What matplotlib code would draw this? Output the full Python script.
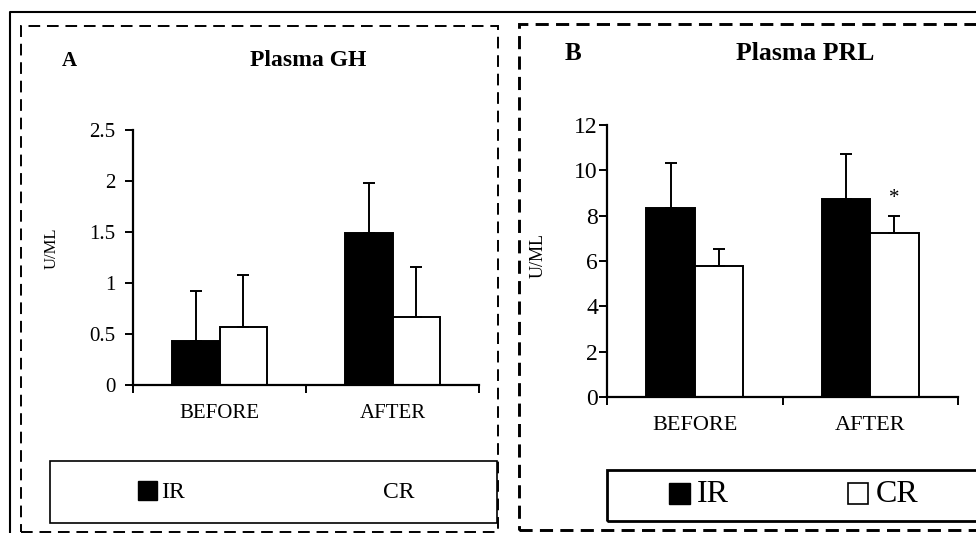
import matplotlib
matplotlib.use('Agg')
import matplotlib.pyplot as plt
from matplotlib.patches import Rectangle
from matplotlib.lines import Line2D
import numpy as np

plt.rcParams['font.family'] = 'Liberation Serif'

categories = ['BEFORE', 'AFTER']
groups = ['IR', 'CR']

gh_ir = [0.43, 1.49]
gh_ir_err = [0.49, 0.49]
gh_cr = [0.57, 0.67]
gh_cr_err = [0.51, 0.49]

prl_ir = [8.35, 8.74]
prl_ir_err = [1.98, 1.96]
prl_cr = [5.78, 7.23]
prl_cr_err = [0.75, 0.75]

W, H = 976, 533
fig = plt.figure(figsize=(W / 100, H / 100), dpi=100)


def fx(px):
    return px / W


def fy(py):
    return 1 - py / H


def draw_panel(ax, ir, ir_err, cr, cr_err, ymax, yticks, tick_fs, lab_fs, ypad):
    x = np.arange(len(categories))
    w = 0.275
    ax.bar(x - w / 2, ir, w, color='black', edgecolor='black', linewidth=1.4, zorder=2)
    ax.bar(x + w / 2, cr, w, color='white', edgecolor='black', linewidth=1.4, zorder=2)
    ax.errorbar(x - w / 2, ir, yerr=[np.zeros(len(ir)), ir_err], fmt='none',
                ecolor='black', elinewidth=1.4, capsize=4.5, capthick=1.4, zorder=3)
    ax.errorbar(x + w / 2, cr, yerr=[np.zeros(len(cr)), cr_err], fmt='none',
                ecolor='black', elinewidth=1.4, capsize=4.5, capthick=1.4, zorder=3)
    ax.set_xlim(-0.5, len(categories) - 0.5)
    ax.set_ylim(0, ymax)
    ax.set_yticks(yticks)
    ax.set_yticklabels([f'{t:g}' for t in yticks], fontsize=tick_fs)
    ax.set_xticks(x)
    ax.set_xticklabels(categories, fontsize=lab_fs)
    ax.set_xticks(np.arange(len(categories) + 1) - 0.5, minor=True)
    ax.tick_params(axis='x', which='major', length=0, pad=14)
    ax.tick_params(axis='x', which='minor', length=6, width=1.4, direction='out')
    ax.tick_params(axis='y', length=5.5, width=1.4, direction='out', pad=ypad)
    for s in ['top', 'right']:
        ax.spines[s].set_visible(False)
    for s in ['left', 'bottom']:
        ax.spines[s].set_linewidth(1.6)
    ax.set_facecolor('none')


# panel A
axA = fig.add_axes([fx(133), fy(385), fx(479 - 133), (385 - 130) / H])
draw_panel(axA, gh_ir, gh_ir_err, gh_cr, gh_cr_err, 2.5, [0, 0.5, 1, 1.5, 2, 2.5], 15, 15, 7)
axA.set_ylabel('U/ML', fontsize=12)
axA.yaxis.set_label_coords((60 - 133) / 346, (385 - 248) / 255)

# panel B
axB = fig.add_axes([fx(607), fy(397), fx(958 - 607), (397 - 125) / H])
draw_panel(axB, prl_ir, prl_ir_err, prl_cr, prl_cr_err, 12, [0, 2, 4, 6, 8, 10, 12], 17, 16, 1)
axB.set_ylabel('U/ML', fontsize=13)
axB.yaxis.set_label_coords((547 - 607) / 351, (397 - 256) / 272)
axB.text(1 + 0.275 / 2, 8.75, '*', ha='center', va='center', fontsize=15)

# titles
fig.text(fx(62), fy(61), 'A', fontsize=15, fontweight='bold', va='center', ha='left')
fig.text(fx(308), fy(61), 'Plasma GH', fontsize=17, fontweight='bold', va='center', ha='center')
fig.text(fx(565), fy(53), 'B', fontsize=18, fontweight='bold', va='center', ha='left')
fig.text(fx(805), fy(53), 'Plasma PRL', fontsize=18.5, fontweight='bold', va='center', ha='center')

# outer frame (solid, top and left)
fig.add_artist(Line2D([fx(10), fx(10), 1.0], [0.0, fy(12), fy(12)], color='black', lw=1.5))

# dashed panel frames
fig.add_artist(Rectangle((fx(21), fy(532)), fx(498 - 21), (532 - 26) / H, fill=False,
                         edgecolor='black', lw=1.4, linestyle=(0, (6, 3.5))))
fig.add_artist(Rectangle((fx(519), fy(530)), fx(1000 - 519), (530 - 24) / H, fill=False,
                         edgecolor='black', lw=2.1, linestyle=(0, (4.5, 2.5))))

# legend A
fig.add_artist(Rectangle((fx(50), fy(523)), fx(497 - 50), (523 - 461) / H, fill=False,
                         edgecolor='black', lw=1.2))
fig.add_artist(Rectangle((fx(138), fy(500)), fx(19), 19 / H, facecolor='black',
                         edgecolor='black', lw=1))
fig.text(fx(161), fy(492), groups[0], fontsize=17, va='center', ha='left')
fig.text(fx(383), fy(492), groups[1], fontsize=17, va='center', ha='left')

# legend B
fig.add_artist(Rectangle((fx(607), fy(521)), fx(1000 - 607), (521 - 470) / H, fill=False,
                         edgecolor='black', lw=2))
fig.add_artist(Rectangle((fx(669), fy(504)), fx(21), 21 / H, facecolor='black',
                         edgecolor='black', lw=1))
fig.add_artist(Rectangle((fx(848), fy(504)), fx(20), 21 / H, facecolor='white',
                         edgecolor='black', lw=1.2))
fig.text(fx(697), fy(494), groups[0], fontsize=23, va='center', ha='left')
fig.text(fx(876), fy(494), groups[1], fontsize=23, va='center', ha='left')

fig.savefig('out.png', dpi=100)
